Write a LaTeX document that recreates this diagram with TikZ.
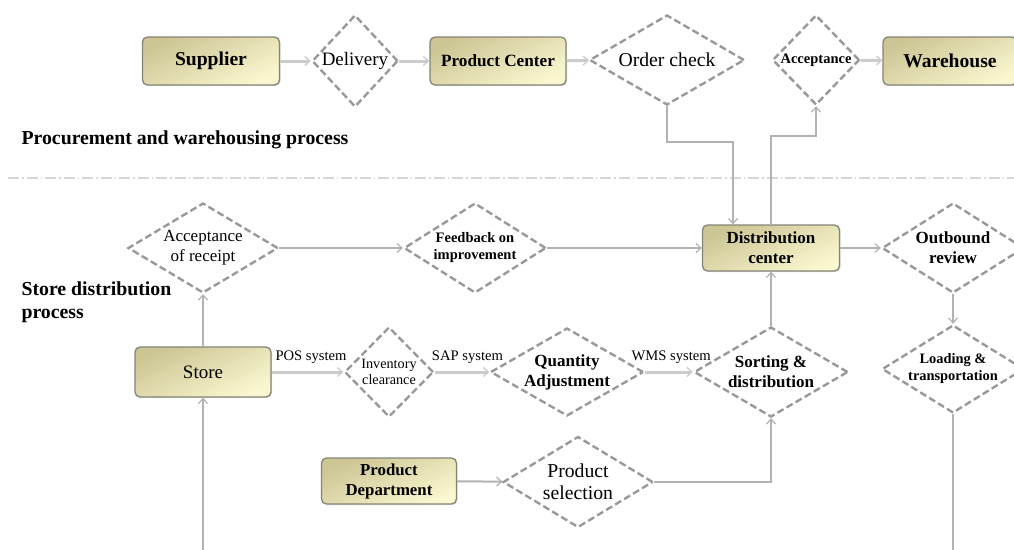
\documentclass[tikz,border=0pt]{standalone}
\usepackage{fontspec}
\setmainfont{Liberation Serif}
\usetikzlibrary{shapes.geometric,arrows.meta,shadows,calc}

\definecolor{boxdark}{RGB}{204,197,148}
\definecolor{boxlight}{RGB}{250,247,208}
\definecolor{boxline}{RGB}{132,132,118}
\newcommand{\fsz}[2]{\fontsize{#1}{#2}\selectfont}

\begin{document}
\begin{tikzpicture}[x=1pt,y=-1pt,
  box/.style={rectangle,rounded corners=5pt,draw=boxline,line width=1.3pt,
    top color=boxdark,bottom color=boxlight,shading angle=25,
    drop shadow={shadow xshift=1pt,shadow yshift=-1pt,opacity=0.25},
    align=center,inner sep=0pt},
  dia/.style={diamond,draw=black!40,line width=2.4pt,dash pattern=on 7pt off 3.5pt,
    fill=white,align=center,inner sep=0pt},
  dsize/.style n args={3}{minimum width=#1pt,minimum height=#2pt,shape aspect=#3},
  flow/.style={draw=black!20,line width=3pt,
    -{Straight Barb[length=5pt,width=9pt,line width=1.3pt]}},
  link/.style={draw=black!30,line width=2pt,
    -{Straight Barb[length=5pt,width=9pt,line width=1.2pt]}},
  lbl/.style={font=\fsz{14.6}{16},inner sep=1pt}]
  \useasboundingbox (0,0) rectangle (1014,549);
  \clip (0,0) rectangle (1014,549);

  % procurement and warehousing
  \node[box,minimum width=137pt,minimum height=48pt,font=\fsz{19.6}{22}\bfseries] (supplier) at (211,61) {Supplier};
  \node[dia,dsize={86}{92}{0.93},font=\fsz{19}{22}] (deliv) at (355,61) {Delivery};
  \node[box,minimum width=136pt,minimum height=48pt,font=\fsz{17.2}{20}\bfseries] (prodctr) at (498,61) {Product Center};
  \node[dia,dsize={155}{90}{1.72},font=\fsz{19.7}{22}] (ordchk) at (667,60) {Order check};
  \node[dia,dsize={87}{90}{1},font=\fsz{14.5}{16}\bfseries] (accept) at (816,60) {Acceptance};
  \node[box,minimum width=134pt,minimum height=48pt,font=\fsz{19.6}{22}\bfseries] (warehouse) at (950,61) {Warehouse};

  \node[anchor=west,font=\fsz{19.8}{22}\bfseries] (proctitle) at (18,140) {Procurement and warehousing process};

  \draw[black!16,line width=2.4pt,dash pattern=on 11pt off 3pt on 1.5pt off 3pt] (8,178) -- (1014,178);

  % store distribution
  \node[dia,dsize={150}{90}{1.67},font=\fsz{17}{20}] (accrec) at (203,248) {Acceptance\\of receipt};
  \node[dia,dsize={142}{90}{1.58},font=\fsz{14.5}{17}\bfseries] (feedback) at (475,248) {Feedback on\\improvement};
  \node[box,minimum width=137pt,minimum height=46pt,font=\fsz{17}{20}\bfseries] (distctr) at (771,248) {Distribution\\center};
  \node[dia,dsize={142}{90}{1.58},font=\fsz{17}{20}\bfseries] (outbound) at (953,248) {Outbound\\review};

  \node[anchor=west,align=left,font=\fsz{19.8}{23}\bfseries] (storetitle) at (18,302) {Store distribution\\process};

  \node[box,minimum width=136pt,minimum height=50pt,font=\fsz{19}{22}] (store) at (203,372) {Store};
  \node[dia,dsize={89}{90}{1},font=\fsz{14.2}{16}] (inv) at (389,372) {Inventory\\clearance};
  \node[dia,dsize={153}{88}{1.74},font=\fsz{17}{20}\bfseries] (qty) at (567,372) {Quantity\\Adjustment};
  \node[dia,dsize={154}{90}{1.71},font=\fsz{17}{20}\bfseries] (sort) at (771,372) {Sorting \&\\distribution};
  \node[dia,dsize={142}{88}{1.61},font=\fsz{14.4}{17}\bfseries] (loading) at (953,369) {Loading \&\\transportation};

  \node[box,minimum width=135pt,minimum height=46pt,font=\fsz{16.8}{20}\bfseries] (proddep) at (389,481) {Product\\Department};
  \node[dia,dsize={150}{91}{1.65},font=\fsz{19.7}{22}] (prodsel) at (578,482) {Product\\selection};

  \coordinate (storein) at (203,552);
  \coordinate (loadout) at (953,552);

  % connectors
  \draw[flow] (supplier) -- (deliv);
  \draw[flow] (deliv) -- (prodctr);
  \draw[flow] (prodctr) -- (ordchk);
  \draw[flow] (accept) -- (warehouse);
  \draw[link] (ordchk.south) |- ($(distctr.north)+(-38,-82)$) -- ($(distctr.north)+(-38,0)$);
  \draw[link] (distctr.north) -- ++(0,-88) -| (accept.south);

  \draw[link] (accrec) -- (feedback);
  \draw[link] (feedback) -- (distctr);
  \draw[link] (distctr) -- (outbound);
  \draw[link] (outbound) -- (loading);
  \draw[link] (store) -- (accrec);
  \draw[link] (storein) -- (store);
  \draw[link,-] (loading) -- (loadout);

  \draw[flow] (store) -- node[lbl,above=6pt,pos=0.55] {POS system} (inv);
  \draw[flow] (inv) -- node[lbl,above=6pt,pos=0.6] {SAP system} (qty);
  \draw[flow] (qty) -- node[lbl,above=6pt,pos=0.55] {WMS system} (sort);
  \draw[link] (sort) -- (distctr);

  \draw[link] (proddep) -- (prodsel);
  \draw[link] (prodsel.east) -| (sort.south);
\end{tikzpicture}
\end{document}
